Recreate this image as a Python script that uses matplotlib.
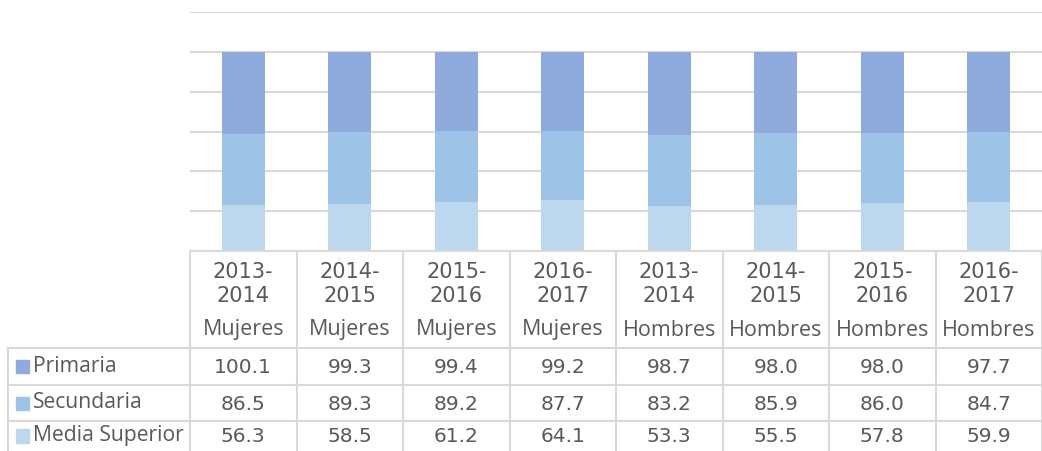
import numpy as np
import matplotlib.pyplot as plt
from matplotlib.lines import Line2D
from matplotlib.patches import Rectangle

years = ["2013-\n2014", "2014-\n2015", "2015-\n2016", "2016-\n2017",
         "2013-\n2014", "2014-\n2015", "2015-\n2016", "2016-\n2017"]
genders = ["Mujeres"] * 4 + ["Hombres"] * 4
series = ["Primaria", "Secundaria", "Media Superior"]
primaria = [100.1, 99.3, 99.4, 99.2, 98.7, 98.0, 98.0, 97.7]
secundaria = [86.5, 89.3, 89.2, 87.7, 83.2, 85.9, 86.0, 84.7]
media_sup = [56.3, 58.5, 61.2, 64.1, 53.3, 55.5, 57.8, 59.9]
colors = ["#8FAADC", "#9DC3E6", "#BDD7EE"]

W, H = 1042, 451
plt.rcParams['font.family'] = ['Open Sans', 'DejaVu Sans']
fig = plt.figure(figsize=(W / 100, H / 100), dpi=100)

def fx(px):
    return px / W

def fy(py):
    return 1 - py / H

x0, x1, ytop, ybase = 190, 1042, 12, 251
ax = fig.add_axes([fx(x0), fy(ybase), fx(x1) - fx(x0), fy(ytop) - fy(ybase)])

p = np.array(primaria)
s = np.array(secundaria)
m = np.array(media_sup)
tot = p + s + m
x = np.arange(len(p))
ax.bar(x, m / tot * 100, 0.4, color=colors[2], zorder=3)
ax.bar(x, s / tot * 100, 0.4, bottom=m / tot * 100, color=colors[1], zorder=3)
ax.bar(x, p / tot * 100, 0.4, bottom=(m + s) / tot * 100, color=colors[0], zorder=3)
ax.set_xlim(-0.5, len(p) - 0.5)
ax.set_ylim(0, 120)
ax.set_yticks(np.arange(0, 121, 20))
ax.yaxis.grid(True, color="#D9D9D9", linewidth=1.5)
ax.set_axisbelow(True)
ax.tick_params(left=False, bottom=False, labelleft=False, labelbottom=False)
for sp in ax.spines.values():
    sp.set_visible(False)

# data table below the plot
lc = "#D9D9D9"
tc = "#595959"
colw = (x1 - x0) / len(p)

def hline(xa, xb, y):
    fig.add_artist(Line2D([fx(xa), fx(xb)], [fy(y), fy(y)], color=lc, lw=1.5))

def vline(x, ya, yb):
    fig.add_artist(Line2D([fx(x), fx(x)], [fy(ya), fy(yb)], color=lc, lw=1.5))

hline(x0, x1, ybase)
rows_y = [348, 385, 421, 451]
for y in rows_y[:-1]:
    hline(8, x1, y)
vline(8, 348, 451)
for i in range(len(p) + 1):
    vline(x0 + i * colw, ybase, 451)

for i in range(len(p)):
    cx = x0 + (i + 0.5) * colw
    fig.text(fx(cx), fy(284), years[i], ha="center", va="center",
             fontsize=15, color=tc, linespacing=1.25, family=["DejaVu Sans"])
    fig.text(fx(cx), fy(330), genders[i], ha="center", va="center",
             fontsize=15.5, color=tc)

vals = [primaria, secundaria, media_sup]
for r in range(3):
    cy = (rows_y[r] + rows_y[r + 1]) / 2
    fig.add_artist(Rectangle((fx(16), fy(cy + 6.5)), fx(13), fy(cy - 6.5) - fy(cy + 6.5),
                             color=colors[r], transform=fig.transFigure))
    fig.text(fx(33), fy(cy), series[r], ha="left", va="center", fontsize=15.2, color=tc)
    for i in range(len(p)):
        cx = x0 + (i + 0.5) * colw
        fig.text(fx(cx), fy(cy + 1), f"{vals[r][i]:.1f}", ha="center", va="center",
                 fontsize=14.5, color=tc, family=["DejaVu Sans"])

fig.savefig("out.png", dpi=100)
